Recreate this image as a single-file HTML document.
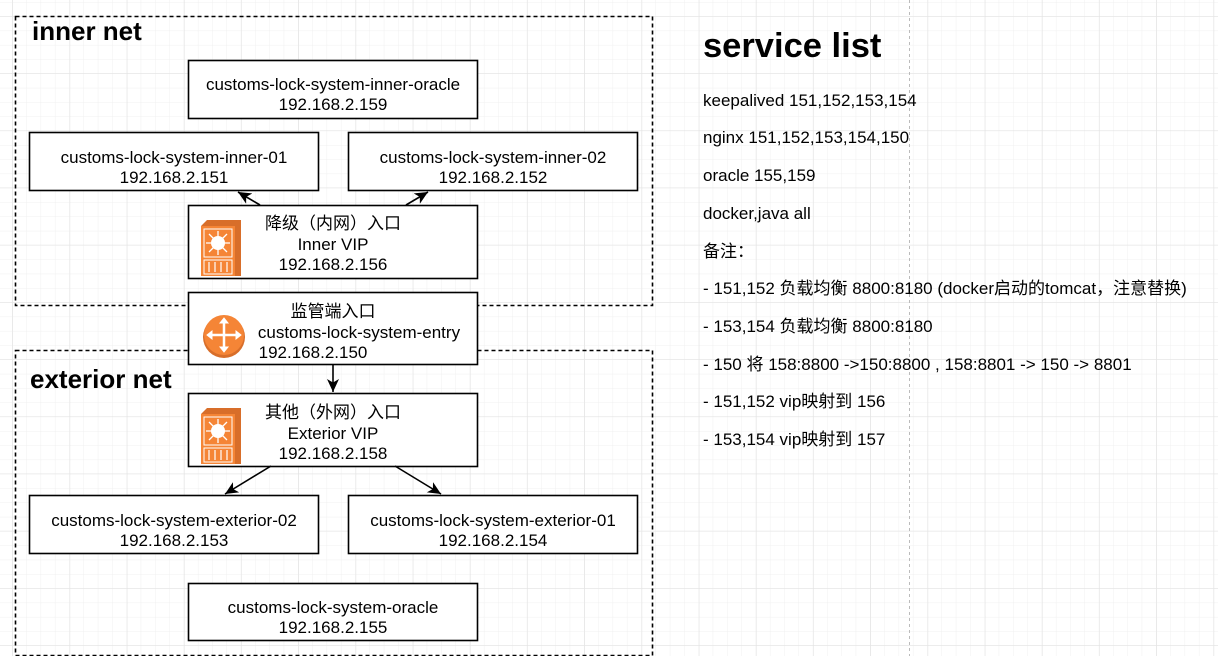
<!DOCTYPE html>
<html><head><meta charset="utf-8"><style>
html,body{margin:0;padding:0;background:#fff}
svg{display:block}
text{font-family:"Liberation Sans","Noto Sans CJK SC",sans-serif;fill:#000}
</style></head><body>
<svg width="1218" height="656" viewBox="0 0 1218 656" xmlns="http://www.w3.org/2000/svg">
<defs>
<pattern id="gmin" x="12" y="2" width="14.3" height="14.3" patternUnits="userSpaceOnUse">
<path d="M0 0H14.3M0 0V14.3" stroke="#f0f0f0" stroke-width="1" fill="none"/></pattern>
<pattern id="gmaj" x="12.5" y="16" width="57.2" height="57.2" patternUnits="userSpaceOnUse">
<path d="M0 0H57.2M0 0V57.2" stroke="#e2e2e2" stroke-width="1" fill="none"/></pattern>
<marker id="ar" markerWidth="14" markerHeight="12" refX="13" refY="6" orient="auto" markerUnits="userSpaceOnUse">
<path d="M0 0L13 6L0 12L3.5 6Z" fill="#000"/></marker>
<g id="sw">
<path d="M0 6L6 0H40L40 56H34L34 6Z" fill="#d86e2a"/>
<rect x="0" y="6" width="34" height="50" fill="#f58536"/>
<rect x="3" y="9" width="28" height="28" fill="#f58536" stroke="#fff" stroke-width="1"/>
<circle cx="17" cy="23" r="7" fill="#fff"/>
<path d="M17 11V35M5 23H29M8 14L26 32M26 14L8 32" stroke="#fff" stroke-width="1.3"/>
<rect x="3" y="40" width="28" height="14" fill="#f58536" stroke="#fff" stroke-width="1"/>
<path d="M8 42V52M14 42V52M20 42V52M26 42V52" stroke="#fff" stroke-width="1.2"/>
</g>
</defs>
<rect width="1218" height="656" fill="url(#gmin)"/>
<rect width="1218" height="656" fill="url(#gmaj)"/>
<line x1="909.5" y1="0" x2="909.5" y2="656" stroke="#bbb" stroke-dasharray="3,3"/>

<rect x="15.5" y="16.5" width="637" height="289" fill="none" stroke="#000" stroke-dasharray="4,3" stroke-width="1.6"/>
<rect x="15.5" y="350.5" width="637" height="305" fill="none" stroke="#000" stroke-dasharray="4,3" stroke-width="1.6"/>
<text x="32" y="40" font-size="26" font-weight="bold">inner net</text>
<text x="30" y="388" font-size="26" font-weight="bold">exterior net</text>

<g stroke="#000" stroke-width="1.6" fill="#fff">
<rect x="188.5" y="60.5" width="289" height="58"/>
<rect x="29.5" y="132.5" width="289" height="58"/>
<rect x="348.5" y="132.5" width="289" height="58"/>
<rect x="188.5" y="205.5" width="289" height="73"/>
<rect x="188.5" y="292.5" width="289" height="72"/>
<rect x="188.5" y="393.5" width="289" height="73"/>
<rect x="29.5" y="495.5" width="289" height="58"/>
<rect x="348.5" y="495.5" width="289" height="58"/>
<rect x="188.5" y="583.5" width="289" height="57"/>
</g>
<g stroke="#000" stroke-width="1.6" marker-end="url(#ar)">
<line x1="260" y1="205" x2="238" y2="192"/>
<line x1="406" y1="205" x2="428" y2="192"/>
<line x1="333" y1="365" x2="333" y2="392"/>
<line x1="271" y1="466" x2="225" y2="494"/>
<line x1="395" y1="466" x2="441" y2="494"/>
</g>
<use href="#sw" x="201" y="220"/>
<use href="#sw" x="201" y="408"/>
<circle cx="224" cy="337" r="21" fill="#d86e2a"/>
<circle cx="224" cy="335" r="20" fill="#f58536"/>
<g stroke="#fff" stroke-width="2.5" fill="#fff">
<path d="M210 335H238M224 321V349" fill="none"/>
<path d="M207 335L212 331V339Z M241 335L236 331V339Z M224 318L220 323H228Z M224 352L220 347H228Z" stroke-width="1"/>
</g>

<g font-size="17" text-anchor="middle">
<text x="333" y="90">customs-lock-system-inner-oracle</text>
<text x="333" y="110">192.168.2.159</text>
<text x="174" y="163">customs-lock-system-inner-01</text>
<text x="174" y="183">192.168.2.151</text>
<text x="493" y="163">customs-lock-system-inner-02</text>
<text x="493" y="183">192.168.2.152</text>
<text x="333" y="229">降级（内网）入口</text>
<text x="333" y="250">Inner VIP</text>
<text x="333" y="270">192.168.2.156</text>
<text x="333" y="317">监管端入口</text>
<text x="359" y="338">customs-lock-system-entry</text>
<text x="313" y="358">192.168.2.150</text>
<text x="333" y="418">其他（外网）入口</text>
<text x="333" y="439">Exterior VIP</text>
<text x="333" y="459">192.168.2.158</text>
<text x="174" y="526">customs-lock-system-exterior-02</text>
<text x="174" y="546">192.168.2.153</text>
<text x="493" y="526">customs-lock-system-exterior-01</text>
<text x="493" y="546">192.168.2.154</text>
<text x="333" y="613">customs-lock-system-oracle</text>
<text x="333" y="633">192.168.2.155</text>
</g>

<text x="703" y="57" font-size="34.5" font-weight="bold">service list</text>
<g font-size="17">
<text x="703" y="106">keepalived 151,152,153,154</text>
<text x="703" y="143">nginx 151,152,153,154,150</text>
<text x="703" y="181">oracle 155,159</text>
<text x="703" y="219">docker,java all</text>
<text x="703" y="257">备注：</text>
<text x="703" y="294">- 151,152 负载均衡 8800:8180 (docker启动的tomcat，注意替换)</text>
<text x="703" y="332">- 153,154 负载均衡 8800:8180</text>
<text x="703" y="370">- 150 将 158:8800 -&gt;150:8800 , 158:8801 -&gt; 150 -&gt; 8801</text>
<text x="703" y="407">- 151,152 vip映射到 156</text>
<text x="703" y="445">- 153,154 vip映射到 157</text>
</g>
</svg>
</body></html>
